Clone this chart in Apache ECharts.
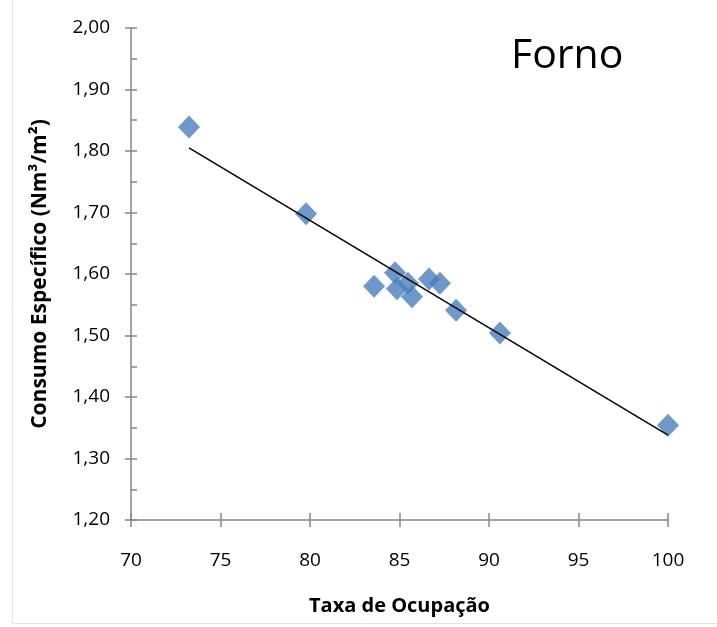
<!DOCTYPE html>
<html>
<head>
<meta charset="utf-8">
<script src="https://cdn.jsdelivr.net/npm/echarts@6/dist/echarts.min.js"></script>
<style>
html,body{margin:0;padding:0;background:#fff;}
#chart{width:717px;height:627px;}
</style>
</head>
<body>
<div id="chart"></div>
<script>
// Data
const taxaOcupacao = [73.24, 79.78, 83.58, 84.75, 84.86, 85.47, 85.70, 86.65, 87.26, 88.16, 90.61, 100.0];
const consumoEspecifico = [1.839, 1.698, 1.580, 1.602, 1.576, 1.585, 1.563, 1.592, 1.585, 1.541, 1.504, 1.354];
const trendX = [73.24, 100.0];
const trendY = [1.805, 1.338];
const xTicks = [70, 75, 80, 85, 90, 95, 100];
const yTicks = [1.2, 1.3, 1.4, 1.5, 1.6, 1.7, 1.8, 1.9, 2.0];

const points = taxaOcupacao.map((x, i) => [x, consumoEspecifico[i]]);
const trend = trendX.map((x, i) => [x, trendY[i]]);

const axisGrey = '#868686';
const labelFont = "'Open Sans', 'Noto Sans', sans-serif";

const chart = echarts.init(document.getElementById('chart'), null, {renderer: 'canvas'});
chart.setOption({
  backgroundColor: '#ffffff',
  animation: false,
  title: {
    text: 'Forno',
    left: 506,
    top: 31,
    textStyle: {fontFamily: labelFont, fontSize: 41, fontWeight: 'normal', color: '#000'}
  },
  graphic: [
    {type: 'line', shape: {x1: 12.5, y1: 0, x2: 12.5, y2: 623.5}, style: {stroke: '#e3e3e3', lineWidth: 1}},
    {type: 'line', shape: {x1: 12.5, y1: 623.5, x2: 717, y2: 623.5}, style: {stroke: '#e3e3e3', lineWidth: 1}}
  ],
  grid: {left: 131, right: 49, top: 28, bottom: 107, containLabel: false},
  xAxis: [
    {
      type: 'value', position: 'bottom',
      min: xTicks[0], max: xTicks[xTicks.length - 1], interval: 5,
      name: 'Taxa de Ocupação', nameLocation: 'middle', nameGap: 76,
      nameTextStyle: {fontFamily: labelFont, fontSize: 20, fontWeight: 'bold', color: '#000'},
      axisLine: {show: true, lineStyle: {color: axisGrey, width: 1.5}},
      axisTick: {show: true, inside: false, length: 7, lineStyle: {color: axisGrey, width: 1.5}},
      axisLabel: {margin: 31, fontFamily: labelFont, fontSize: 19, color: '#000'},
      splitLine: {show: false}
    },
    {
      type: 'value', position: 'top', offset: -492,
      min: xTicks[0], max: xTicks[xTicks.length - 1], interval: 5,
      axisLine: {show: false},
      axisTick: {show: true, inside: false, length: 7, lineStyle: {color: axisGrey, width: 1.5}},
      axisLabel: {show: false},
      splitLine: {show: false}
    }
  ],
  yAxis: [
    {
      type: 'value', position: 'left',
      min: yTicks[0], max: yTicks[yTicks.length - 1], interval: 0.1,
      name: 'Consumo Específico (Nm³/m²)', nameLocation: 'middle', nameGap: 80, nameRotate: 90,
      nameTextStyle: {fontFamily: labelFont, fontSize: 21, fontWeight: 'bold', color: '#000'},
      axisLine: {show: true, lineStyle: {color: axisGrey, width: 1.5}},
      axisTick: {show: true, inside: false, length: 6, lineStyle: {color: axisGrey, width: 1.5}},
      axisLabel: {margin: 21, fontFamily: labelFont, fontSize: 19, color: '#000',
        formatter: v => v.toFixed(2).replace('.', ',')},
      splitLine: {show: false}
    },
    {
      type: 'value', position: 'right', offset: -537,
      min: yTicks[0], max: yTicks[yTicks.length - 1], interval: 0.05,
      axisLine: {show: false},
      axisTick: {show: true, inside: false, length: 6, lineStyle: {color: axisGrey, width: 1.5}},
      axisLabel: {show: false},
      splitLine: {show: false}
    }
  ],
  series: [
    {
      type: 'line', xAxisIndex: 0, yAxisIndex: 0,
      data: trend, showSymbol: false, symbol: 'none',
      lineStyle: {color: '#000', width: 1.5}, z: 3
    },
    {
      type: 'scatter', xAxisIndex: 0, yAxisIndex: 0,
      data: points, symbol: 'diamond', symbolSize: [22, 23],
      itemStyle: {color: '#4a7ebb'}, z: 2
    }
  ]
});
</script>
</body>
</html>
